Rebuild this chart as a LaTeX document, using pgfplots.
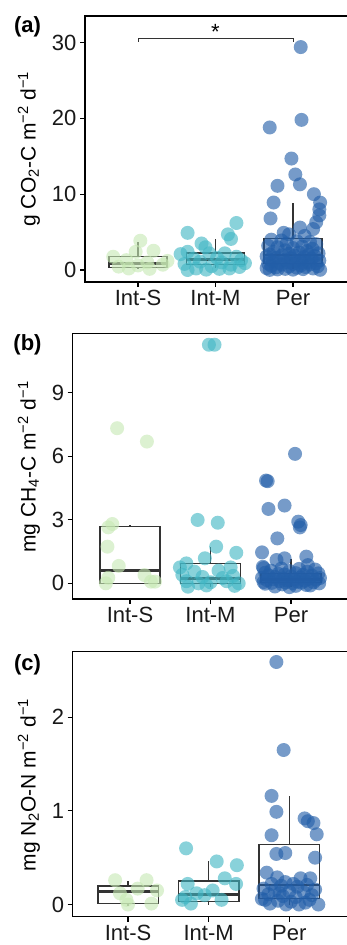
\documentclass[border=0pt]{standalone}
\usepackage{fontspec}
\setmainfont{Liberation Sans}
\usepackage{pgfplots}
\pgfplotsset{compat=1.18}
\usepgfplotslibrary{statistics}
\definecolor{cS}{HTML}{C7E9B4}
\definecolor{cM}{HTML}{41B6C4}
\definecolor{cP}{HTML}{225EA8}
\definecolor{boxc}{HTML}{333333}
\pgfplotsset{
  panel/.style={
    scale only axis,
    axis line style={line width=1.4pt, black},
    tick pos=left, tick align=outside, major tick length=5pt,
    every tick/.style={black, line width=1.1pt},
    xtick={1,2,3}, xticklabels={Int-S,Int-M,Per},
    tick label style={font=\fontsize{22}{22}\selectfont, text=black!90},
    /pgf/number format/assume math mode=true,
    boxplot/draw direction=y,
  },
  pts/.style={only marks, mark=*, mark size=7pt, color=#1, mark options={solid, fill=#1, draw=#1, draw opacity=0, fill opacity=0.62}},
  bx/.style={boxc, line width=1.5pt, solid, mark=none},
}
\begin{document}
\begin{tikzpicture}
\useasboundingbox (0,0) rectangle (347pt,945pt);
% ---------------- panel (a)
\begin{axis}[panel, at={(85pt,663pt)}, anchor=south west, width=263pt, height=266pt,
  xmin=0.316, xmax=3.71, ymin=-1.58, ymax=33.5, ytick={0,10,20,30}]
\addplot[pts=cS] coordinates {(1.03,3.86)(1.20,2.54)(0.97,2.4)(0.68,1.75)(0.85,1.3)(1.12,1.0)(1.32,0.7)(0.88,0.2)(1.15,0.15)(0.75,0.45)(1.38,1.2)(1.0,0.6)};
\addplot[pts=cM] coordinates {(1.64,4.9)(2.27,6.2)(2.16,4.7)(2.20,4.1)(1.82,3.5)(1.87,3.0)(1.64,2.4)(1.55,2.1)(1.92,2.2)(2.12,2.2)(2.27,1.75)(1.72,1.5)(2.02,1.6)(2.33,1.3)(1.80,1.1)(2.08,1.0)(1.60,0.8)(2.20,0.7)(1.95,0.5)(2.31,0.4)(2.18,0.2)(1.75,0.2)(1.64,0.0)(1.88,0.05)(2.05,0.15)(2.38,0.9)};
\addplot[pts=cP] coordinates {(3.10,29.4)(3.11,19.8)(2.70,18.8)(2.98,14.7)(3.03,12.6)(3.09,11.3)(2.80,11.1)(3.27,10.0)(3.35,8.9)(2.75,8.9)(3.34,8.0)(3.34,7.2)(2.71,6.8)(3.30,6.3)(3.09,5.6)(3.26,5.4)(2.88,4.9)(2.95,4.7)(3.15,4.5)
(2.72,4.0)(2.85,3.9)(3.05,3.8)(3.22,3.7)(2.92,3.5)(3.30,3.4)(2.68,3.2)(3.12,3.1)(2.80,3.0)(3.00,2.9)(3.25,2.8)(2.90,2.6)(3.18,2.5)(2.75,2.4)(3.08,2.3)(3.33,2.2)(2.95,2.15)(2.70,2.05)(3.20,2.0)
(2.86,1.95)(3.02,1.9)(3.28,1.85)(2.66,1.8)(3.14,1.7)(2.78,1.6)(2.97,1.55)(3.24,1.5)(2.70,1.4)(3.10,1.35)(2.88,1.3)(3.34,1.25)(3.04,1.2)(2.74,1.1)(3.20,1.05)(2.93,1.0)(3.12,0.95)(2.82,0.92)(3.30,0.9)
(2.68,0.85)(3.00,0.8)(3.22,0.75)(2.85,0.7)(3.10,0.6)(2.72,0.55)(3.32,0.5)(2.95,0.45)(3.16,0.4)(2.78,0.35)(3.05,0.3)(2.66,0.25)(3.26,0.2)(2.90,0.15)(3.13,0.12)(2.80,0.08)(3.00,0.05)(3.35,0.03)(2.70,0.02)};
\addplot[bx, boxplot prepared={draw position=1, lower whisker=0.1, lower quartile=0.36, median=0.88, upper quartile=1.75, upper whisker=3.65, box extend=0.75, whisker extend=0, every median/.style={line width=2.6pt}}] coordinates {};
\addplot[bx, boxplot prepared={draw position=2, lower whisker=0.22, lower quartile=0.75, median=1.36, upper quartile=2.24, upper whisker=4.08, box extend=0.75, whisker extend=0, every median/.style={line width=2.6pt}}] coordinates {};
\addplot[bx, boxplot prepared={draw position=3, lower whisker=0.13, lower quartile=0.88, median=1.98, upper quartile=4.17, upper whisker=8.9, box extend=0.75, whisker extend=0, every median/.style={line width=2.6pt}}] coordinates {};
\draw[line width=0.8pt, boxc] (axis cs:1,30.1) -- (axis cs:1,30.55) -- (axis cs:3,30.55) -- (axis cs:3,30.1);
\node[anchor=south, font=\fontsize{22}{22}\selectfont, inner sep=1pt] at (axis cs:2,30.3) {*};
\end{axis}
% ---------------- panel (b)
\begin{axis}[panel, at={(72.7pt,346pt)}, anchor=south west, width=275.3pt, height=265.7pt,
  xmin=0.288, xmax=3.708, ymin=-0.74, ymax=11.8, ytick={0,3,6,9}]
\addplot[pts=cS] coordinates {(0.84,7.32)(1.21,6.69)(0.73,2.64)(0.78,2.8)(0.72,1.73)(0.86,0.82)(1.18,0.39)(1.26,0.08)(1.31,0.08)(0.73,0.26)(0.70,0.0)};
\addplot[pts=cM] coordinates {(1.98,11.26)(2.05,11.26)(1.84,2.99)(2.09,2.86)(2.07,1.73)(2.32,1.44)(1.93,1.18)(1.70,0.94)(2.25,0.75)(1.62,0.75)(1.80,0.55)(2.10,0.6)(1.90,0.3)(2.15,0.25)(1.70,0.1)(1.85,0.0)(2.00,0.05)(2.20,0.1)(2.35,0.0)(1.65,0.4)(2.28,0.35)(1.95,-0.1)(1.72,-0.16)(2.30,-0.12)};
\addplot[pts=cP] coordinates {(3.05,6.11)(2.69,4.85)(2.71,4.82)(2.72,3.51)(2.92,3.67)(3.09,2.91)(3.11,2.64)(3.12,2.75)(2.83,2.12)(2.64,1.46)(3.19,1.26)(2.82,1.10)(2.92,1.18)(2.65,0.78)(3.21,0.86)
(2.66,0.72)(2.88,0.70)(3.10,0.68)(3.30,0.65)(2.75,0.60)(2.98,0.58)(3.20,0.55)(2.68,0.50)(3.06,0.48)(3.34,0.47)(2.84,0.45)(2.92,0.42)(3.15,0.40)(2.72,0.38)(3.26,0.36)(3.00,0.33)(2.80,0.30)(3.12,0.28)(2.64,0.26)(3.36,0.25)(2.90,0.23)(3.22,0.21)(2.78,0.20)(3.04,0.19)(3.31,0.17)(2.70,0.15)(2.95,0.14)(3.17,0.12)(2.86,0.10)(3.08,0.08)(2.66,0.06)(3.28,0.05)(2.93,0.04)(3.13,0.03)(2.76,0.02)(3.02,0.01)(3.35,0.0)(2.68,-0.02)(2.89,-0.05)(3.19,-0.08)(3.06,-0.12)(2.80,-0.15)(2.98,-0.18)(3.24,-0.1)};
\addplot[bx, boxplot prepared={draw position=1, lower whisker=0, lower quartile=0, median=0.6, upper quartile=2.67, upper whisker=2.75, box extend=0.75, whisker extend=0, every median/.style={line width=2.6pt}}] coordinates {};
\addplot[bx, boxplot prepared={draw position=2, lower whisker=-0.16, lower quartile=0, median=0.24, upper quartile=0.94, upper whisker=1.73, box extend=0.75, whisker extend=0, every median/.style={line width=2.6pt}}] coordinates {};
\addplot[bx, boxplot prepared={draw position=3, lower whisker=-0.16, lower quartile=0.03, median=0.19, upper quartile=0.47, upper whisker=1.13, box extend=0.75, whisker extend=0, every median/.style={line width=2.6pt}}] coordinates {};
\end{axis}
% ---------------- panel (c)
\begin{axis}[panel, at={(72.7pt,28.3pt)}, anchor=south west, width=275.3pt, height=265pt,
  xmin=0.314, xmax=3.728, ymin=-0.13, ymax=2.70, ytick={0,1,2}]
\addplot[pts=cS] coordinates {(0.84,0.26)(1.23,0.26)(1.36,0.15)(0.98,0.05)(1.29,0.01)(1.00,0.0)(1.12,0.17)(0.90,0.12)};
\addplot[pts=cM] coordinates {(1.72,0.60)(2.10,0.46)(2.35,0.42)(2.20,0.28)(2.34,0.22)(1.74,0.22)(1.71,0.08)(1.78,0.01)(1.95,0.10)(2.16,0.05)(1.67,0.05)(1.85,0.12)(2.05,0.15)};
\addplot[pts=cP] coordinates {(2.84,2.59)(2.93,1.65)(2.78,1.16)(2.84,0.99)(3.19,0.92)(3.30,0.87)(3.23,0.89)(3.34,0.75)(2.78,0.74)(2.95,0.55)(2.84,0.54)(3.32,0.50)
(2.72,0.34)(2.85,0.29)(3.14,0.28)(3.26,0.28)(2.95,0.24)(3.05,0.22)(2.78,0.22)(3.22,0.21)(2.90,0.20)(3.10,0.19)(2.68,0.17)(3.32,0.16)(2.82,0.15)(3.00,0.14)(3.18,0.13)(2.74,0.11)(3.28,0.10)(2.92,0.09)(3.08,0.08)(2.66,0.06)(3.36,0.0)(2.86,0.04)(3.02,0.03)(3.20,0.02)(2.76,0.01)(2.96,0.0)(3.12,0.0)(2.70,0.05)(3.25,0.05)(2.88,0.12)};
\addplot[bx, boxplot prepared={draw position=1, lower whisker=-0.02, lower quartile=0.01, median=0.14, upper quartile=0.2, upper whisker=0.25, box extend=0.75, whisker extend=0, every median/.style={line width=2.6pt}}] coordinates {};
\addplot[bx, boxplot prepared={draw position=2, lower whisker=0, lower quartile=0.03, median=0.107, upper quartile=0.25, upper whisker=0.46, box extend=0.75, whisker extend=0, every median/.style={line width=2.6pt}}] coordinates {};
\addplot[bx, boxplot prepared={draw position=3, lower whisker=-0.01, lower quartile=0.064, median=0.21, upper quartile=0.64, upper whisker=1.16, box extend=0.75, whisker extend=0, every median/.style={line width=2.6pt}}] coordinates {};
\end{axis}
% labels
\node[rotate=90, font=\fontsize{21}{21}\selectfont] at (29pt,796pt) {g CO\textsubscript{2}-C m\textsuperscript{−2} d\textsuperscript{−1}};
\node[rotate=90, font=\fontsize{21}{21}\selectfont] at (29pt,478pt) {mg CH\textsubscript{4}-C m\textsuperscript{−2} d\textsuperscript{−1}};
\node[rotate=90, font=\fontsize{21}{21}\selectfont] at (29pt,160pt) {mg N\textsubscript{2}O-N m\textsuperscript{−2} d\textsuperscript{−1}};
\node[font=\bfseries\fontsize{22}{22}\selectfont] at (27.5pt,918.5pt) {(a)};
\node[font=\bfseries\fontsize{22}{22}\selectfont] at (27.5pt,600pt) {(b)};
\node[font=\bfseries\fontsize{22}{22}\selectfont] at (27.5pt,280.5pt) {(c)};
\end{tikzpicture}
\end{document}
